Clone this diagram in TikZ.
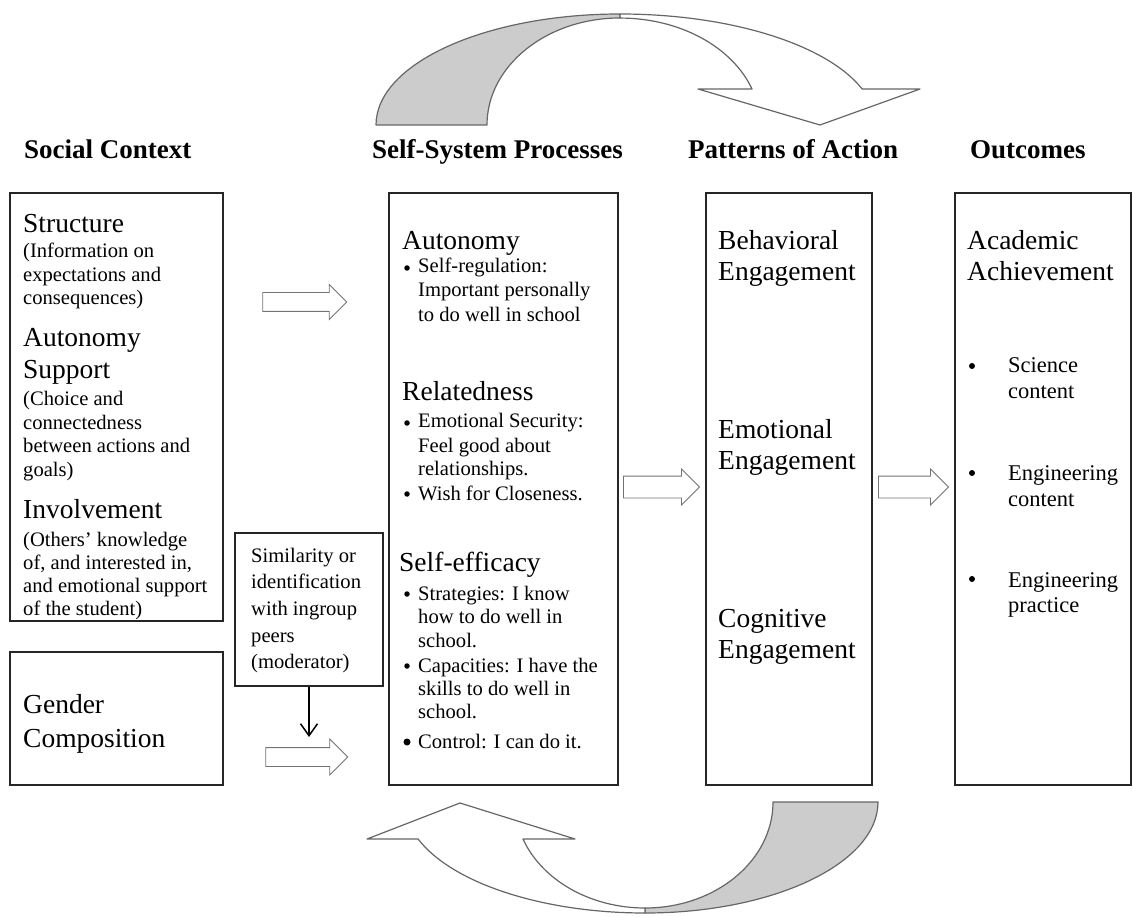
\documentclass[tikz,border=0pt]{standalone}
\usepackage{fontspec}
\setmainfont{Liberation Serif}
\usetikzlibrary{shapes.arrows,arrows.meta}

\begin{document}
\begin{tikzpicture}[
  x=1pt, y=-1pt,
  every node/.style={inner sep=0pt, anchor=base west},
  box/.style={draw=black!85, line width=1.1pt, anchor=center},
  hdr/.style={font=\fontsize{27}{32}\selectfont\bfseries},
  big/.style={font=\fontsize{27.5}{32}\selectfont},
  sub/.style={font=\fontsize{20.6}{24}\selectfont},
  osub/.style={font=\fontsize{22.5}{26}\selectfont},
  dot/.style={circle, fill=black, minimum size=5.5pt, anchor=center},
  blockarr/.style={single arrow, draw=black!55, fill=white, line width=0.9pt,
    anchor=center, text height=0pt, text depth=0pt, inner xsep=0pt},
  swirl/.style={draw=black!60, line width=1.2pt, line join=round},
  downarr/.style={-{Straight Barb[length=12pt,width=17pt]}, line width=1.5pt}
]
\useasboundingbox (0,0) rectangle (1133,917);

% Headings
\node[hdr] (hsc) at (24,159) {Social Context};
\node[hdr] (hssp) at (372,159) {Self-System Processes};
\node[hdr] (hpa) at (688,159) {Patterns of Action};
\node[hdr] (hoc) at (970,159) {Outcomes};

% Boxes
\node[box, minimum width=213pt, minimum height=428pt] (sc) at (116.5,407) {};
\node[box, minimum width=213pt, minimum height=133pt] (gc) at (116.5,718.5) {};
\node[box, minimum width=148pt, minimum height=153pt] (sim) at (309,609.5) {};
\node[box, minimum width=229pt, minimum height=592pt] (ssp) at (503.5,489) {};
\node[box, minimum width=166pt, minimum height=592pt] (pa) at (789,489) {};
\node[box, minimum width=176pt, minimum height=592pt] (oc) at (1043,489) {};

% Social context
\node[big] (stru) at (23,233) {Structure};
\node[sub] (stru1) at (23,258) {(Information on};
\node[sub] (stru2) at (23,282) {expectations and};
\node[sub] (stru3) at (23,305) {consequences)};
\node[big] (auto) at (23,347) {Autonomy};
\node[big] (auto0) at (23,379) {Support};
\node[sub] (auto1) at (23,406) {(Choice and};
\node[sub] (auto2) at (23,429) {connectedness};
\node[sub] (auto3) at (23,452) {between actions and};
\node[sub] (auto4) at (23,476) {goals)};
\node[big] (invo) at (23,518) {Involvement};
\node[sub] (invo1) at (23,546) {(Others’ knowledge};
\node[sub] (invo2) at (23,569) {of, and interested in,};
\node[sub] (invo3) at (23,592) {and emotional support};
\node[sub] (invo4) at (23,615) {of the student)};

% Gender composition
\node[big] (gend1) at (23,713) {Gender};
\node[big] (gend2) at (23,747) {Composition};

% Moderator
\node[sub] (sim1) at (251,562) {Similarity or};
\node[sub] (sim2) at (251,588) {identification};
\node[sub] (sim3) at (251,615) {with ingroup};
\node[sub] (sim4) at (251,642) {peers};
\node[sub] (sim5) at (251,668) {(moderator)};
\coordinate (simtip) at (309,737);
\draw[downarr] (sim.south) -- (simtip);

% Self-system processes
\node[big] (ssa) at (402,250) {Autonomy};
\node[dot] (ssab) at (407,268) {};
\node[sub] (ssa1) at (418,273) {Self-regulation:};
\node[sub] (ssa2) at (418,297) {Important personally};
\node[sub] (ssa3) at (418,322) {to do well in school};
\node[big] (ssr) at (402,400) {Relatedness};
\node[dot] (ssrb1) at (407,423) {};
\node[sub] (ssr1) at (418,428) {Emotional Security:};
\node[sub] (ssr2) at (418,452) {Feel good about};
\node[sub] (ssr3) at (418,475) {relationships.};
\node[dot] (ssrb2) at (407,494) {};
\node[sub] (ssr4) at (418,500) {Wish for Closeness.};
\node[big] (sse) at (399,571) {Self-efficacy};
\node[dot] (sseb1) at (407,594) {};
\node[sub] (sse1) at (418,600) {Strategies: I know};
\node[sub] (sse2) at (418,623) {how to do well in};
\node[sub] (sse3) at (418,647) {school.};
\node[dot] (sseb2) at (407,666) {};
\node[sub] (sse4) at (418,672) {Capacities: I have the};
\node[sub] (sse5) at (418,695) {skills to do well in};
\node[sub] (sse6) at (418,718) {school.};
\node[dot, minimum size=7pt] (sseb3) at (407,742) {};
\node[sub] (sse7) at (418,748) {Control: I can do it.};

% Patterns of action
\node[big] (beh1) at (718,250) {Behavioral};
\node[big] (beh2) at (718,281) {Engagement};
\node[big] (emo1) at (718,438) {Emotional};
\node[big] (emo2) at (718,469) {Engagement};
\node[big] (cog1) at (718,627) {Cognitive};
\node[big] (cog2) at (718,658) {Engagement};

% Outcomes
\node[big] (aca1) at (967,250) {Academic};
\node[big] (aca2) at (967,281) {Achievement};
\node[dot, minimum size=6pt] (ocb1) at (972,366) {};
\node[osub] (out1a) at (1008,373) {Science};
\node[osub] (out1b) at (1008,399) {content};
\node[dot, minimum size=6pt] (ocb2) at (972,473) {};
\node[osub] (out2a) at (1008,480) {Engineering};
\node[osub] (out2b) at (1008,506) {content};
\node[dot, minimum size=6pt] (ocb3) at (972,579) {};
\node[osub] (out3a) at (1008,587) {Engineering};
\node[osub] (out3b) at (1008,612) {practice};

% Block arrows
\node[blockarr, minimum height=84pt, inner ysep=9pt, single arrow head extend=8pt] (arr1) at (300,302) {};
\node[blockarr, minimum height=82pt, inner ysep=9pt, single arrow head extend=8.5pt] (arr2) at (302,757) {};
\node[blockarr, minimum height=76pt, inner ysep=10.5pt, single arrow head extend=7pt] (arr3) at (656,487) {};
\node[blockarr, minimum height=70pt, inner ysep=10.5pt, single arrow head extend=7pt] (arr4) at (908,487) {};

% Feedback loop, top
\filldraw[swirl, fill=black!20] (376,125)
  arc[start angle=180, end angle=270, x radius=244, y radius=111] -- (620,18)
  arc[start angle=270, end angle=180, x radius=133, y radius=107] -- cycle;
\filldraw[swirl, fill=white] (620,14)
  arc[start angle=270, end angle=341.1, x radius=256, y radius=111]
  -- (920,89) -- (820,125) -- (698,89) -- (752,89)
  arc[start angle=340.3, end angle=270, x radius=140, y radius=107] -- cycle;

% Feedback loop, bottom
\filldraw[swirl, fill=black!20] (878,802)
  arc[start angle=0, end angle=90, x radius=233, y radius=111] -- (645,908)
  arc[start angle=90, end angle=0, x radius=128, y radius=106] -- cycle;
\filldraw[swirl, fill=white] (645,913)
  arc[start angle=90, end angle=160.53, x radius=240.7, y radius=111]
  -- (367,839) -- (460,803) -- (575,839) -- (523,839)
  arc[start angle=159.57, end angle=90, x radius=130.2, y radius=106] -- cycle;

\end{tikzpicture}
\end{document}
